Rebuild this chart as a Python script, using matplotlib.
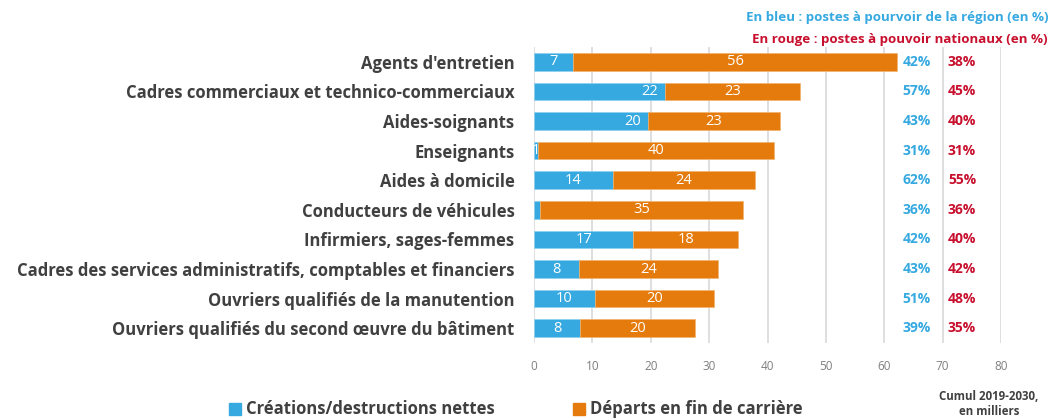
import matplotlib
matplotlib.use("Agg")
import matplotlib.pyplot as plt

categories = [
    "Agents d'entretien",
    "Cadres commerciaux et technico-commerciaux",
    "Aides-soignants",
    "Enseignants",
    "Aides à domicile",
    "Conducteurs de véhicules",
    "Infirmiers, sages-femmes",
    "Cadres des services administratifs, comptables et financiers",
    "Ouvriers qualifiés de la manutention",
    "Ouvriers qualifiés du second œuvre du bâtiment",
]
creations = [6.7, 22.4, 19.5, 0.7, 13.5, 1.0, 17.0, 7.7, 10.4, 7.9]
departs = [55.5, 23.1, 22.6, 40.4, 24.3, 34.8, 18.0, 23.8, 20.4, 19.7]
creations_labels = ["7", "22", "20", "1", "14", "", "17", "8", "10", "8"]
departs_labels = ["56", "23", "23", "40", "24", "35", "18", "24", "20", "20"]
pct_region = ["42%", "57%", "43%", "31%", "62%", "36%", "42%", "43%", "51%", "39%"]
pct_national = ["38%", "45%", "40%", "31%", "55%", "36%", "40%", "42%", "48%", "35%"]
xticks = [0, 10, 20, 30, 40, 50, 60, 70, 80]

# label placement style for blue labels ("c" centered, "e" near end)
blue_label_mode = ["c", "e", "e", "c", "c", "c", "c", "c", "c", "c"]

BLUE = "#36A9E1"
ORANGE = "#E57B0C"
RED = "#C8102E"
DARK = "#404040"
FONT = "Open Sans"

fig = plt.figure(figsize=(10.57, 4.19), dpi=100)
ax = fig.add_axes([534 / 1057, 1 - 343 / 419, (1001 - 534) / 1057, (343 - 47) / 419])

y = list(range(len(categories)))
ax.barh(y, creations, height=0.6, color=BLUE, edgecolor="#8fd0f0", linewidth=0.5, zorder=3)
ax.barh(y, departs, left=creations, height=0.6, color=ORANGE, edgecolor="#f2b36e", linewidth=0.5, zorder=3)

for i in y:
    c = creations[i]
    if creations_labels[i]:
        if blue_label_mode[i] == "e":
            ax.text(c - 1.2, i, creations_labels[i], ha="right", va="center", color="white",
                    fontsize=10.5, family=FONT, zorder=4)
        else:
            ax.text(c / 2, i, creations_labels[i], ha="center", va="center", color="white",
                    fontsize=10.5, family=FONT, zorder=4)
    ax.text(c + departs[i] / 2, i, departs_labels[i], ha="center", va="center", color="white",
            fontsize=10.5, family=FONT, zorder=4)
    ax.text(68.0, i, pct_region[i], ha="right", va="center", color=BLUE, fontsize=10,
            family=FONT, fontweight="bold", zorder=4)
    ax.text(70.9, i, pct_national[i], ha="left", va="center", color=RED, fontsize=10,
            family=FONT, fontweight="bold", zorder=4)

ax.set_xlim(0, 80)
ax.set_ylim(len(categories) - 0.5, -0.5)
ax.set_xticks(xticks)
ax.set_xticklabels([str(t) for t in xticks], fontsize=8.5, color="#7f7f7f", family=FONT)
ax.set_yticks(y)
ax.set_yticklabels(categories, fontsize=12, color=DARK, family=FONT, fontweight="bold")
ax.tick_params(axis="both", length=0)
ax.tick_params(axis="x", pad=12)
ax.tick_params(axis="y", pad=14)
ax.grid(axis="x", color="#d9d9d9", linewidth=1.2, zorder=0)
for s in ax.spines.values():
    s.set_visible(False)

fig.text(1048 / 1057, 1 - 18 / 419, "En bleu : postes à pourvoir de la région (en %)", ha="right",
         va="center", color=BLUE, fontsize=9.6, family=FONT, fontweight="bold")
fig.text(1048 / 1057, 1 - 40 / 419, "En rouge : postes à pouvoir nationaux (en %)", ha="right",
         va="center", color=RED, fontsize=9.6, family=FONT, fontweight="bold")
fig.text(989 / 1057, 1 - 404 / 419, "Cumul 2019-2030,\nen milliers", ha="center", va="center",
         color=DARK, fontsize=8.3, family=FONT, fontweight="bold", linespacing=1.15)

# legend
fig.patches.append(plt.Rectangle((229 / 1057, 1 - 415 / 419), 12 / 1057, 12 / 419,
                                 transform=fig.transFigure, color=BLUE, figure=fig))
fig.text(246 / 1057, 1 - 409 / 419, "Créations/destructions nettes", ha="left", va="center",
         color=DARK, fontsize=12, family=FONT, fontweight="bold")
fig.patches.append(plt.Rectangle((573 / 1057, 1 - 415 / 419), 12 / 1057, 12 / 419,
                                 transform=fig.transFigure, color=ORANGE, figure=fig))
fig.text(590 / 1057, 1 - 409 / 419, "Départs en fin de carrière", ha="left", va="center",
         color=DARK, fontsize=12, family=FONT, fontweight="bold")

fig.savefig("out.png", dpi=100)
